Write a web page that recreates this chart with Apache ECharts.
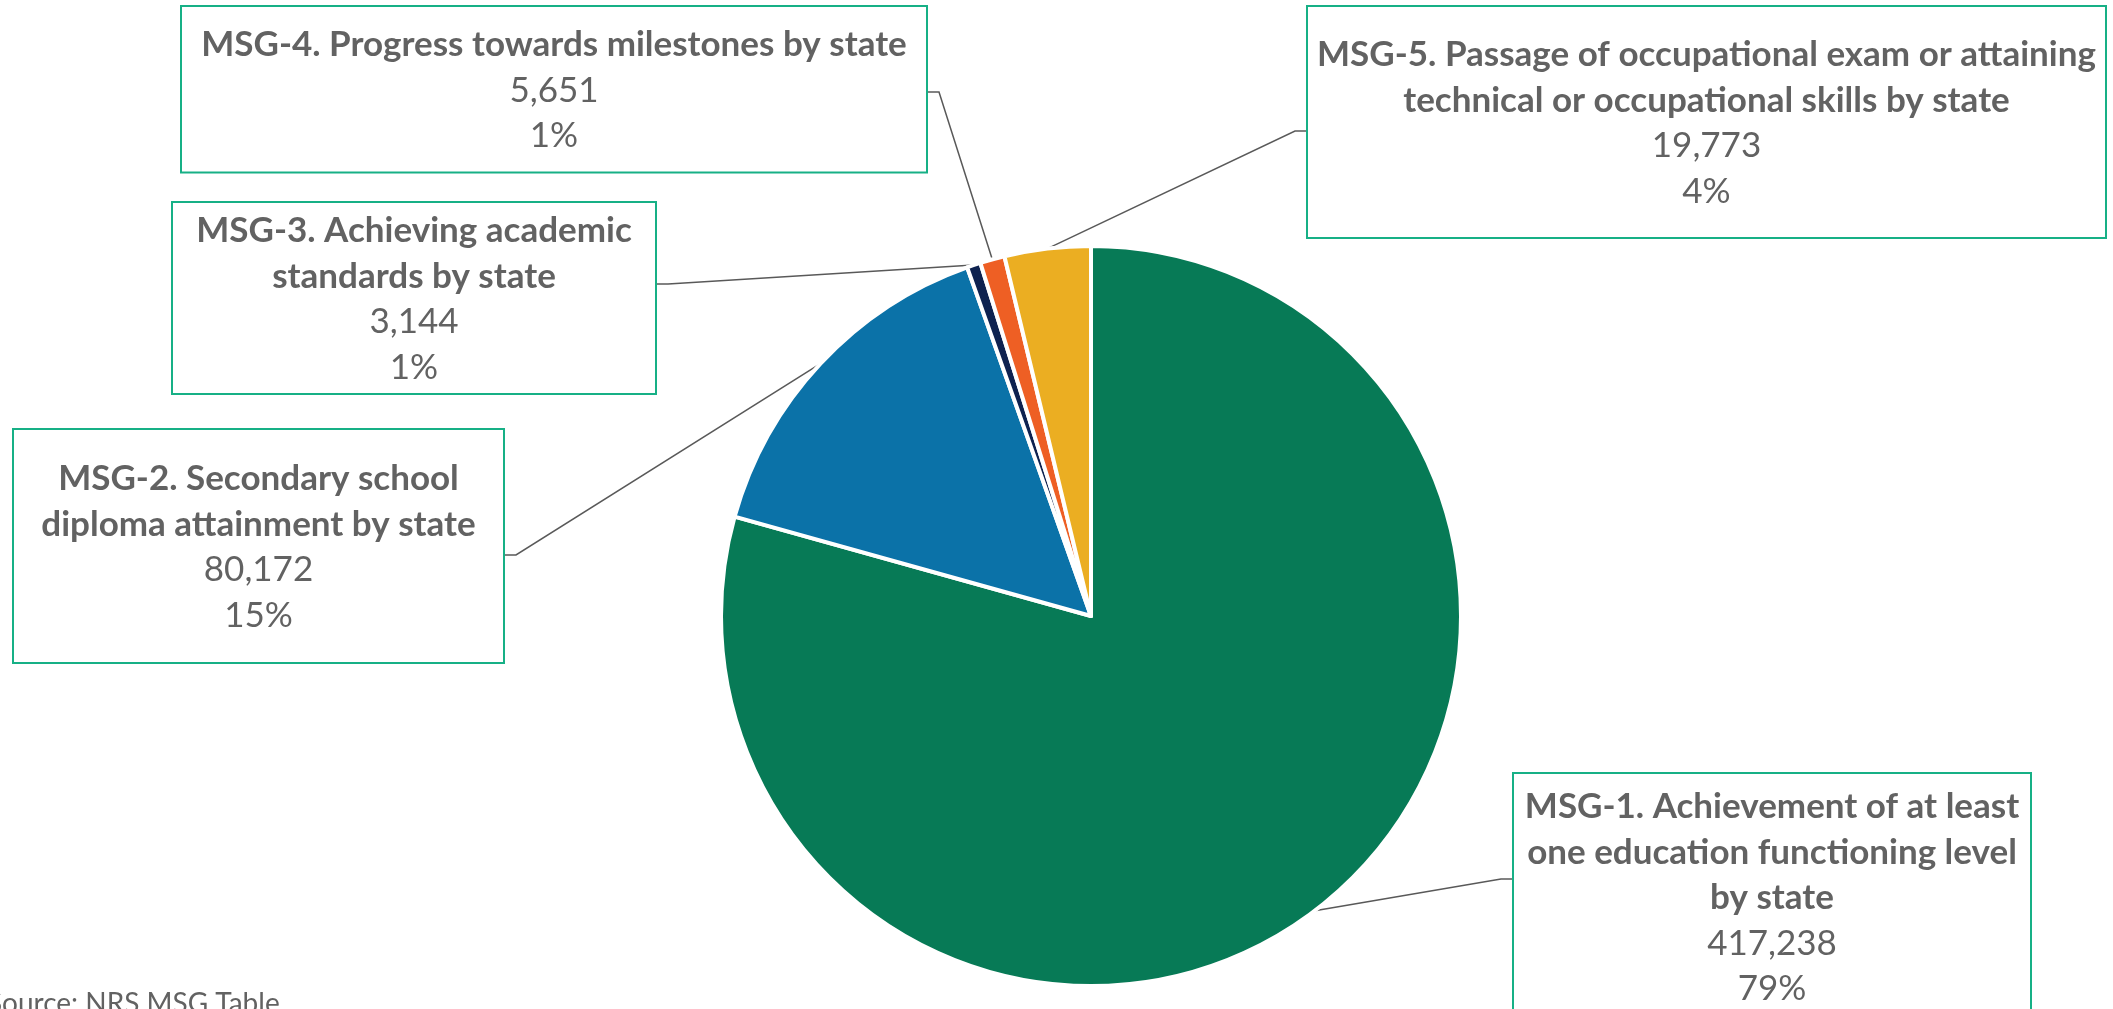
<!DOCTYPE html>
<html><head><meta charset="utf-8">
<script src="https://cdn.jsdelivr.net/npm/echarts@6/dist/echarts.min.js"></script>
<style>html,body{margin:0;padding:0;background:#fff;overflow:hidden}#c{width:2113px;height:1009px}</style>
</head><body><div id="c"></div>
<script>
// ---- data ----
const categories = [
  'MSG-1. Achievement of at least one education functioning level by state',
  'MSG-2. Secondary school diploma attainment by state',
  'MSG-3. Achieving academic standards by state',
  'MSG-4. Progress towards milestones by state',
  'MSG-5. Passage of occupational exam or attaining technical or occupational skills by state'
];
const titleLines = [
  ['MSG-1. Achievement of at least', 'one education functioning level', 'by state'],
  ['MSG-2. Secondary school', 'diploma attainment by state'],
  ['MSG-3. Achieving academic', 'standards by state'],
  ['MSG-4. Progress towards milestones by state'],
  ['MSG-5. Passage of occupational exam or attaining', 'technical or occupational skills by state']
];
const values = [417238, 80172, 3144, 5651, 19773];
const sourceNote = 'Source: NRS MSG Table';

// ---- styles / layout ----
const colors = ['#077A56', '#0B72A8', '#0E2250', '#EE5F24', '#EBAE22'];
const boxes = [
  { x: 1513, y: 774, w: 518, padV: 9,  attachY: 879, lineSide: 'left' },
  { x: 13,   y: 430, w: 491, padV: 25, attachY: 555, lineSide: 'right' },
  { x: 172,  y: 203, w: 484, padV: 4,  attachY: 284, lineSide: 'right' },
  { x: 181,  y: 7,   w: 746, padV: 14, attachY: 92,  lineSide: 'right' },
  { x: 1307, y: 7,   w: 799, padV: 24, attachY: 131, lineSide: 'left' }
];
const FONT = 'Lato, "Open Sans", sans-serif';
const TEXT = '#626262';
const BORDER = '#17B086';

function fitFont(samples) {
  const ctx = document.createElement('canvas').getContext('2d');
  ctx.font = 'bold 100px Lato';
  let s = 0;
  samples.forEach(([t, w]) => { s += 100 * w / ctx.measureText(t).width; });
  return s / samples.length;
}
const FS = Math.round(fitFont([
  ['MSG-5. Passage of occupational exam or attaining', 779],
  ['MSG-4. Progress towards milestones by state', 697],
  ['one education functioning level', 489],
  ['diploma attainment by state', 439]
]) * 10) / 10;
const LH = 45.5;

const total = values.reduce((a, b) => a + b, 0);
const data = categories.map((name, i) => ({
  name: name,
  value: values[i],
  itemStyle: { color: colors[i] },
  label: {
    width: boxes[i].w - 20,
    padding: [boxes[i].padV + 1, 9, boxes[i].padV - 1, 9],
    formatter: function (p) {
      const t = titleLines[i].map(l => '{t|' + l + '}').join('\n');
      return t + '\n{v|' + values[i].toLocaleString('en-US') + '}\n{v|' + Math.round(values[i] / total * 100) + '%}';
    }
  }
}));

const chart = echarts.init(document.getElementById('c'), null, { renderer: 'canvas' });
chart.setOption({
  animation: false,
  backgroundColor: '#fff',
  series: [{
    type: 'pie',
    center: [1091, 616],
    radius: 370,
    startAngle: 90,
    clockwise: true,
    avoidLabelOverlap: false,
    minShowLabelAngle: 0,
    emphasis: { disabled: true },
    itemStyle: { borderColor: '#ffffff', borderWidth: 4 },
    label: {
      show: true,
      position: 'outside',
      align: 'center',
      backgroundColor: '#ffffff',
      borderColor: BORDER,
      borderWidth: 2,
      overflow: 'none',
      rich: {
        t: { fontFamily: FONT, fontWeight: 'bold', fontSize: FS, lineHeight: LH, color: TEXT, align: 'center' },
        v: { fontFamily: FONT, fontWeight: 'normal', fontSize: FS, lineHeight: LH, color: TEXT, align: 'center' }
      }
    },
    labelLine: { show: true, length: 10, length2: 10, smooth: false, lineStyle: { color: '#595959', width: 1.5 } },
    labelLayout: function (p) {
      const b = boxes[p.dataIndex];
      const edgeX = b.lineSide === 'right' ? b.x + b.w : b.x;
      const elbowX = b.lineSide === 'right' ? edgeX + 12 : edgeX - 12;
      const res = { x: b.x + b.w / 2, y: b.y, align: 'center', verticalAlign: 'top' };
      if (p.labelLinePoints) {
        res.labelLinePoints = [p.labelLinePoints[0].slice(), [elbowX, b.attachY], [edgeX, b.attachY]];
      }
      return res;
    },
    data: data
  }],
  graphic: [{
    type: 'text',
    left: -13,
    top: 990,
    style: { text: sourceNote, fontFamily: FONT, fontSize: 28, fill: TEXT }
  }]
});
</script>
</body></html>
